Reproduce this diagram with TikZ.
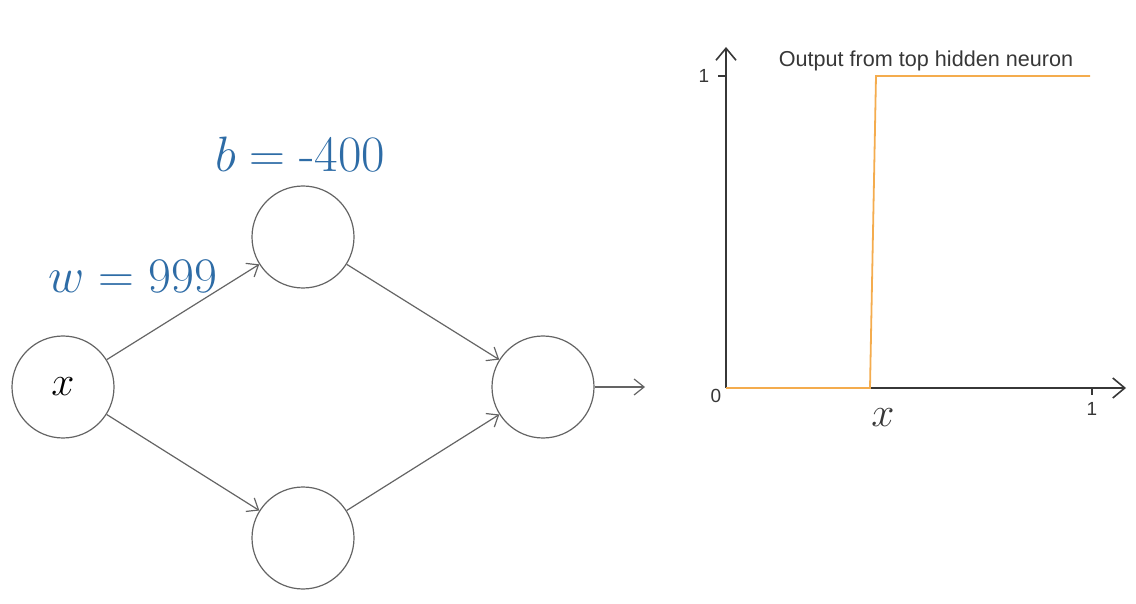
\documentclass[tikz,border=0pt]{standalone}
\usepackage{fontspec}
\newfontfamily\plotfont{Liberation Sans}
\usetikzlibrary{arrows.meta}
\definecolor{lblblue}{RGB}{46,108,166}
\definecolor{stepor}{RGB}{244,172,78}
\definecolor{edgegray}{RGB}{100,100,100}
\definecolor{axisgray}{RGB}{55,55,55}
\tikzset{
  neuron/.style={circle, draw=edgegray, line width=0.6pt, minimum size=51pt, inner sep=0pt, font=\fontsize{20}{22}\selectfont},
  conn/.style={draw=edgegray, line width=0.6pt, -{Straight Barb[length=5pt,width=8pt,line width=0.6pt]}},
  weightlbl/.style={text=lblblue, font=\fontsize{25.5}{30}\selectfont, inner sep=0pt, anchor=base},
  axisline/.style={draw=axisgray, line width=0.8pt},
  axisarrow/.style={axisline, -{Straight Barb[length=6pt,width=10pt,line width=0.8pt]}},
  ticklbl/.style={font=\plotfont\fontsize{9.5}{11}\selectfont, text=axisgray, inner sep=0pt},
  stepline/.style={draw=stepor, line width=0.9pt, line join=miter}
}
\begin{document}
\begin{tikzpicture}[x=0.5pt,y=-0.5pt]
\useasboundingbox (0,0) rectangle (1136,604);
% network
\node[neuron] (in) at (63,387) {$x$};
\node[neuron] (h1) at (303,237) {};
\node[neuron] (h2) at (303,538) {};
\node[neuron] (out) at (543,387) {};
\coordinate (outend) at (645,387);
\draw[conn] (in) -- (h1);
\draw[conn] (in) -- (h2);
\draw[conn] (h1) -- (out);
\draw[conn] (h2) -- (out);
\draw[conn] (out) -- (outend);
\node[weightlbl] (blbl) at (300,172) {$b = \mbox{-400}$};
\node[weightlbl] (wlbl) at (133,293) {$w = 999$};
% plot
\coordinate (O) at (726,388);
\coordinate (ytop) at (726,47);
\coordinate (xend) at (1126,388);
\coordinate (yt1a) at (718,76);
\coordinate (yt1b) at (726,76);
\coordinate (xt1a) at (1092,388);
\coordinate (xt1b) at (1092,395);
\draw[axisarrow] (O) -- (ytop);
\draw[axisarrow] (O) -- (xend);
\draw[axisline] (yt1a) -- (yt1b);
\draw[axisline] (xt1a) -- (xt1b);
\coordinate (s1) at (870,388);
\coordinate (s2) at (876,76);
\coordinate (s3) at (1090,76);
\draw[stepline] (O) -- (s1) -- (s2) -- (s3);
\node[ticklbl] (y1) at (704,76) {1};
\node[ticklbl] (y0) at (716,396) {0};
\node[ticklbl] (x1) at (1092,409) {1};
\node[font=\fontsize{20}{22}\selectfont, text=axisgray, inner sep=0pt] (xl) at (883,418) {$x$};
\node[font=\plotfont\fontsize{10.8}{12}\selectfont, text=axisgray, inner sep=0pt] (title) at (926,61) {Output from top hidden neuron};
\end{tikzpicture}
\end{document}
